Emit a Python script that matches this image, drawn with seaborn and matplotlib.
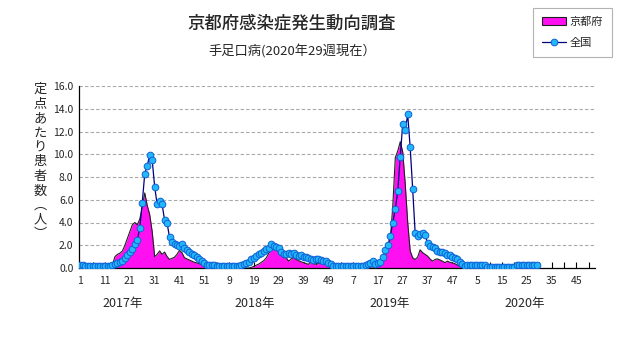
import numpy as np
import pandas as pd
import matplotlib
matplotlib.use("Agg")
import matplotlib.pyplot as plt
import matplotlib.transforms as mtransforms
import seaborn as sns
from matplotlib.patches import Patch
from matplotlib.lines import Line2D

# ---------------- data ----------------
title = "京都府感染症発生動向調査"
subtitle = "手足口病(2020年29週現在）"
ylabel = "定点あたり患者数︵人︶"
legend_labels = ["京都府", "全国"]
year_labels = ["2017年", "2018年", "2019年", "2020年"]
weeks_per_year = [52, 52, 52, 52]
tick_labels = ["1", "11", "21", "31", "41", "51", "9", "19", "29", "39", "49",
               "7", "17", "27", "37", "47", "5", "15", "25", "35", "45"]

kyoto_2017 = [0] * 13 + [0.3, 1.0, 1.2, 1.3, 1.5, 2.0, 2.6, 3.2, 3.8, 4.0, 3.8, 4.3, 5.3,
                         6.6, 5.5, 4.7, 3.2, 1.0, 1.2, 1.5, 1.2, 1.4, 1.0, 0.75, 0.85, 0.95,
                         1.2, 1.55, 1.35, 0.9, 0.8, 0.7, 0.6, 0.5, 0.45, 0.38, 0.3, 0.2, 0.1]
kyoto_2018 = [0] * 17 + [0.05, 0.15, 0.25, 0.35, 0.5, 0.65, 0.9, 1.3, 1.6, 1.8, 1.65, 1.4,
                         1.1, 0.9, 0.9, 0.6, 0.8, 0.9, 0.75, 0.65, 0.55, 0.47, 0.4, 0.32,
                         0.6, 0.35, 0.35, 0.38, 0.45, 0.47, 0.35, 0.2, 0.05, 0, 0]
kyoto_2019 = [0] * 15 + [0.1, 0.3, 0.35, 0.7, 1.0, 1.6, 2.5, 5.5, 9.7, 10.3, 11.1, 10.2,
                         7.4, 4.0, 1.5, 0.9, 0.75, 0.95, 1.6, 1.35, 1.2, 1.05, 0.8, 0.6,
                         0.75, 0.8, 0.7, 0.6, 0.47, 0.6, 0.5, 0.45, 0.38, 0.25, 0.15, 0.05, 0]
kyoto_2020 = [0] * 29

national_2017 = [0.22, 0.28] + [0.2] * 11 + [0.25,
                 0.39, 0.47, 0.53, 0.61, 0.91, 1.14, 1.44, 1.64, 2.08, 2.43, 3.54, 5.73,
                 8.3, 9.0, 9.9, 9.5, 7.15, 5.6, 5.9, 5.6, 4.2, 3.95, 2.7, 2.3, 2.15, 2.0,
                 1.9, 2.1, 1.75, 1.55, 1.4, 1.25, 1.1, 0.95, 0.75, 0.6, 0.4, 0.25]
national_2018 = [0.25, 0.25, 0.22] + [0.2] * 10 + [
                 0.3, 0.38, 0.42, 0.53, 0.76, 0.9, 1.05, 1.2, 1.34, 1.49, 1.69, 1.78, 2.07,
                 1.93, 1.87, 1.72, 1.4, 1.2, 1.2, 1.28, 1.2, 1.28, 1.14, 1.05, 1.1, 1.0,
                 1.0, 0.85, 0.76, 0.7, 0.76, 0.76, 0.67, 0.61, 0.64, 0.47, 0.32, 0.2, 0.17]
national_2019 = [0.2] * 11 + [0.3, 0.35, 0.47, 0.6, 0.38, 0.47, 0.5, 0.96, 1.58, 2.0, 2.8,
                 4.0, 5.2, 6.75, 9.8, 12.7, 12.1, 13.5, 10.6, 6.95, 3.1, 2.8, 3.0, 3.1, 2.9,
                 2.2, 1.9, 1.85, 1.8, 1.5, 1.4, 1.4, 1.3, 1.15, 1.1, 1.0, 0.85, 0.75, 0.55,
                 0.32, 0.2]
national_2020 = [0.25] * 8 + [0.13] * 12 + [0.22] * 9

# ---------------- build table ----------------
kyoto = kyoto_2017 + kyoto_2018 + kyoto_2019 + kyoto_2020
national = national_2017 + national_2018 + national_2019 + national_2020
df = pd.DataFrame({"idx": np.arange(len(kyoto)), "kyoto": kyoto, "national": national})
n_slots = sum(weeks_per_year)

# ---------------- style ----------------
sns.set_style("white")
plt.rcParams["font.family"] = ["Noto Sans CJK JP", "DejaVu Sans"]

fig = plt.figure(figsize=(6.31, 3.47), dpi=100)
ax = fig.add_axes([79 / 631, 1 - 268 / 347, (595 - 79) / 631, (268 - 86) / 347])

# Kyoto area
ax.fill_between(df["idx"], df["kyoto"], 0, color="#FF10F0", linewidth=0, zorder=2)
sns.lineplot(data=df, x="idx", y="kyoto", ax=ax, color="#202020", linewidth=0.8, zorder=3)

# National line with markers
sns.lineplot(data=df, x="idx", y="national", ax=ax, color="#000080", linewidth=0.9,
             marker="o", markersize=4.8, markerfacecolor="#22B8F8",
             markeredgecolor="#1060D8", markeredgewidth=0.7, zorder=4)

ax.set_xlim(-0.5, n_slots - 0.5)
ax.set_ylim(0, 16)
ax.set_yticks(np.arange(0, 16.1, 2.0))
ax.set_yticklabels([f"{v:.1f}" for v in np.arange(0, 16.1, 2.0)], fontsize=7.5)
ax.set_xticks(np.arange(0, 201, 10))
ax.set_xticklabels(tick_labels, fontsize=7.5)
ax.set_xticks(np.arange(5, n_slots, 10), minor=True)
ax.tick_params(axis="x", which="both", direction="in", length=4, width=0.8,
               color="black", pad=6, bottom=True)
ax.tick_params(axis="y", length=0, pad=4)
ax.set_xlabel("")
ax.set_ylabel("")

ax.yaxis.grid(True, color="#A8A8A8", linestyle=(0, (3, 2)), linewidth=0.8)
ax.xaxis.grid(False)
for s in ["top", "right"]:
    ax.spines[s].set_visible(False)
for s in ["left", "bottom"]:
    ax.spines[s].set_color("black")
    ax.spines[s].set_linewidth(0.9)
ax.set_axisbelow(True)

# year labels
year_pos = [17, 70.5, 124.6, 179]
trans = mtransforms.blended_transform_factory(ax.transData, fig.transFigure)
for yl, xp in zip(year_labels, year_pos):
    ax.text(xp, 1 - 304 / 347, yl, transform=trans, ha="center", va="center", fontsize=9)

# titles
fig.text(292 / 631, 1 - 24 / 347, title, ha="center", va="center", fontsize=12.5,
         fontweight="medium")
fig.text(292 / 631, 1 - 52 / 347, subtitle, ha="center", va="center", fontsize=9.5)

# vertical y label
fig.text(40 / 631, 1 - 162 / 347, "\n".join(list(ylabel)), ha="center", va="center",
         fontsize=9.5, linespacing=1.15)

# legend
handles = [Patch(facecolor="#FF10F0", edgecolor="#202020", linewidth=0.8),
           Line2D([0], [0], color="#000080", linewidth=0.9, marker="o", markersize=4.8,
                  markerfacecolor="#22B8F8", markeredgecolor="#1060D8", markeredgewidth=0.7)]
leg = fig.legend(handles, legend_labels, loc="upper right",
                 bbox_to_anchor=(612 / 631, 1 - 8 / 347), frameon=True, fancybox=False,
                 fontsize=8, handlelength=2.2, handletextpad=0.3, borderpad=0.8,
                 labelspacing=1.0, borderaxespad=0)
leg.get_frame().set_edgecolor("#A0A0A0")
leg.get_frame().set_linewidth(0.8)

fig.savefig("out.png", dpi=100)
